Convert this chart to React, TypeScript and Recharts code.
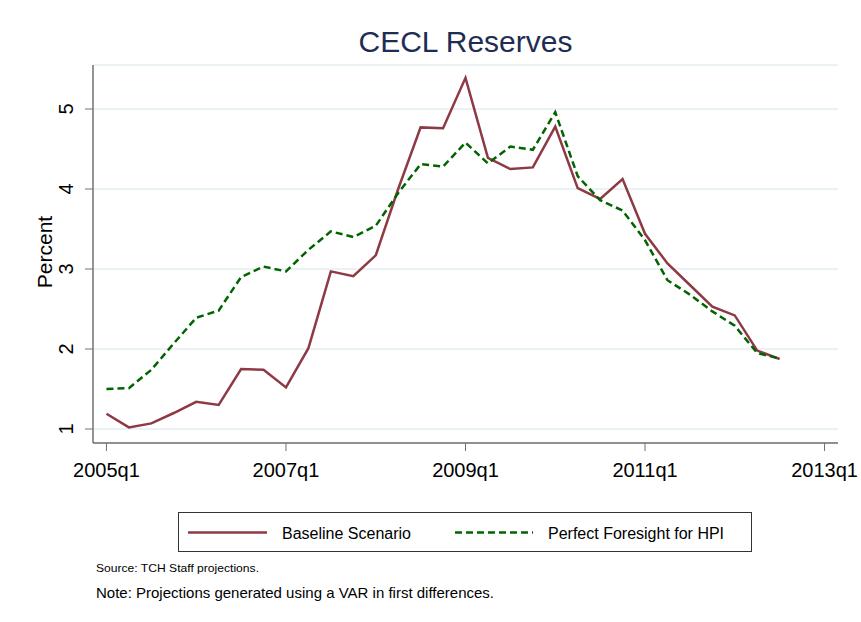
import { LineChart, Line, XAxis, YAxis, CartesianGrid } from "recharts";

const quarters = [
  "2005q1", "2005q2", "2005q3", "2005q4",
  "2006q1", "2006q2", "2006q3", "2006q4",
  "2007q1", "2007q2", "2007q3", "2007q4",
  "2008q1", "2008q2", "2008q3", "2008q4",
  "2009q1", "2009q2", "2009q3", "2009q4",
  "2010q1", "2010q2", "2010q3", "2010q4",
  "2011q1", "2011q2", "2011q3", "2011q4",
  "2012q1", "2012q2", "2012q3",
];

const baseline = [
  1.19, 1.02, 1.07, 1.2, 1.34, 1.3, 1.75, 1.74,
  1.52, 2.01, 2.97, 2.91, 3.17, 4.0, 4.77, 4.76,
  5.39, 4.39, 4.25, 4.27, 4.78, 4.01, 3.875, 4.125,
  3.44, 3.07, 2.8, 2.53, 2.42, 1.98, 1.875,
];

const perfectHpi = [
  1.5, 1.51, 1.74, 2.07, 2.39, 2.48, 2.9, 3.03,
  2.97, 3.24, 3.47, 3.4, 3.54, 3.95, 4.31, 4.28,
  4.58, 4.32, 4.53, 4.49, 4.96, 4.16, 3.86, 3.73,
  3.36, 2.86, 2.68, 2.47, 2.29, 1.95, 1.88,
];

const xTickLabels = ["2005q1", "2007q1", "2009q1", "2011q1", "2013q1"];
const xTickPos = [0, 8, 16, 24, 32];
const yTicks = [1, 2, 3, 4, 5];

const data = quarters.map((q, i) => ({
  q: i,
  label: q,
  baseline: baseline[i],
  hpi: perfectHpi[i],
}));

const FONT = "'Liberation Sans', Arial, sans-serif";
const RED = "#8e3a45";
const GREEN = "#006400";
const AXIS = "#707070";

const XTick = ({ x, payload }: any) => (
  <text x={x} y={477} textAnchor="middle" fontSize={20} fill="#000" fontFamily={FONT}>
    {xTickLabels[xTickPos.indexOf(payload.value)]}
  </text>
);

const YTick = ({ y, payload }: any) => (
  <text
    x={73}
    y={y}
    textAnchor="middle"
    fontSize={20}
    fill="#000"
    fontFamily={FONT}
    transform={`rotate(-90, 73, ${y})`}
  >
    {payload.value}
  </text>
);

export default function App() {
  return (
    <div style={{ position: "absolute", left: 0, top: 0, width: 861, height: 622, background: "#fff", fontFamily: FONT }}>
      <div style={{ position: "absolute", left: 93, width: 745, top: 24, textAlign: "center", fontSize: 30, color: "#1f2d55", lineHeight: "36px" }}>
        CECL Reserves
      </div>
      <LineChart width={861} height={622} data={data} margin={{ top: 65, right: 23, bottom: 0, left: 0 }}>
        <CartesianGrid horizontal vertical={false} stroke="#e5eef0" strokeWidth={1.5} />
        <XAxis
          dataKey="q"
          type="number"
          domain={[-0.6, 32.6]}
          ticks={xTickPos}
          allowDataOverflow
          height={179}
          tickSize={8}
          tick={<XTick />}
          stroke={AXIS}
          tickLine={{ stroke: AXIS }}
          axisLine={{ stroke: AXIS, strokeWidth: 1.5 }}
        />
        <YAxis
          type="number"
          domain={[0.825, 5.55]}
          ticks={yTicks}
          allowDataOverflow
          width={93}
          tickSize={8}
          tick={<YTick />}
          tickLine={{ stroke: AXIS }}
          axisLine={{ stroke: AXIS, strokeWidth: 1.5 }}
          label={{
            content: () => (
              <text x={52} y={252} textAnchor="middle" fontSize={21} fill="#000" fontFamily={FONT} transform="rotate(-90, 52, 252)">
                Percent
              </text>
            ),
          }}
        />
        <Line dataKey="baseline" stroke={RED} strokeWidth={2.5} dot={false} isAnimationActive={false} />
        <Line dataKey="hpi" stroke={GREEN} strokeWidth={2.5} strokeDasharray="7 4" dot={false} isAnimationActive={false} />
      </LineChart>
      <div style={{ position: "absolute", left: 178, top: 512, width: 574, height: 40, border: "1px solid #333", boxSizing: "border-box" }}>
        <svg width={574} height={40} style={{ position: "absolute", left: 0, top: 0 }}>
          <line x1={9} x2={88} y1={19.5} y2={19.5} stroke={RED} strokeWidth={2.5} />
          <text x={103} y={26} fontSize={16} fontFamily={FONT} fill="#000">Baseline Scenario</text>
          <line x1={276} x2={354} y1={19.5} y2={19.5} stroke={GREEN} strokeWidth={2.5} strokeDasharray="7 4" />
          <text x={369} y={26} fontSize={16} fontFamily={FONT} fill="#000">Perfect Foresight for HPI</text>
        </svg>
      </div>
      <svg width={861} height={622} style={{ position: "absolute", left: 0, top: 0, pointerEvents: "none" }}>
        <text x={96} y={572} fontSize={11} fontFamily={FONT} fill="#000" textLength={163} lengthAdjust="spacingAndGlyphs">
          Source: TCH Staff projections.
        </text>
        <text x={96} y={598} fontSize={15} fontFamily={FONT} fill="#000">Note: Projections generated using a VAR in first differences.</text>
      </svg>
    </div>
  );
}
